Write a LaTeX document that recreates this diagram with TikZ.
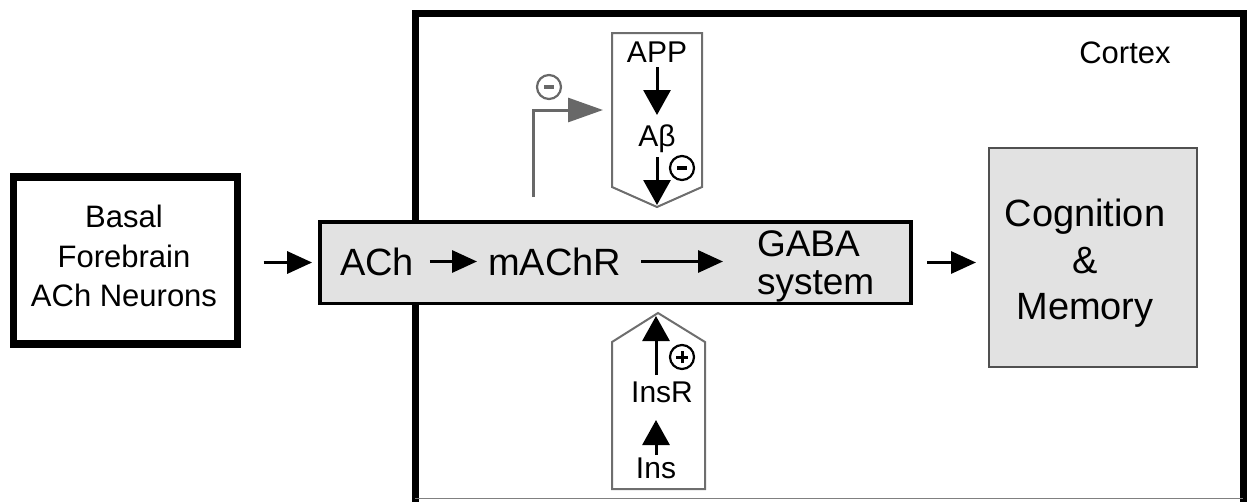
\documentclass[tikz,border=0pt]{standalone}
\usepackage{fontspec}
\setmainfont{Liberation Sans}
\usetikzlibrary{arrows.meta}
\definecolor{boxgray}{HTML}{E2E2E2}
\definecolor{pentline}{HTML}{6E6E6E}
\definecolor{inhib}{HTML}{686868}
\definecolor{cogline}{HTML}{505050}
\begin{document}
\begin{tikzpicture}[x=1pt,y=-1pt,
  txt/.style={inner sep=0pt, outer sep=0pt},
  bigfont/.style={font=\fontsize{38}{46}\selectfont},
  smallfont/.style={font=\fontsize{30}{36}\selectfont},
  arr/.style={line width=3.2pt, -{Triangle[length=25pt,width=22pt]}},
  parr/.style={line width=3pt, -{Triangle[length=25pt,width=27pt]}},
  sign/.style={circle, draw, line width=2.2pt, minimum size=24pt, inner sep=0pt, fill=white},
  pent/.style={draw=pentline, fill=white, line width=2pt}]
\useasboundingbox (0,0) rectangle (1247,501);
% cortex frame
\draw[line width=7pt] (415,505) -- (415,13.5) -- (1243,13.5) -- (1243,505);
\draw[gray, line width=1.5pt] (415,498.5) -- (1243,498.5);
\node[txt, font=\fontsize{31}{36}\selectfont, anchor=base] (cortex) at (1125,63) {Cortex};
% basal forebrain
\node[draw, line width=7.5pt, minimum width=224pt, minimum height=167pt, inner sep=0pt, outer sep=0pt] (basal) at (125.5,260.5) {};
\node[txt, align=center, font=\fontsize{31}{39.5}\selectfont] (basaltxt) at (124,256) {Basal\\Forebrain\\ACh Neurons};
% middle box
\node[draw, fill=boxgray, line width=3.5pt, minimum width=591pt, minimum height=81.5pt, inner sep=0pt, outer sep=0pt] (mid) at (615.6,262.5) {};
\node[txt, bigfont, text height=27pt, text depth=0pt, anchor=base west] (ach) at (340,275) {ACh};
\node[txt, bigfont, text height=27pt, text depth=0pt, anchor=base west] (machr) at (488,275) {mAChR};
\node[txt, align=left, font=\fontsize{37}{38}\selectfont, anchor=west] (gaba) at (757,266) {GABA\\system};
% cognition
\node[draw=cogline, fill=boxgray, line width=2.5pt, minimum width=208pt, minimum height=219pt, inner sep=0pt, outer sep=0pt] (cog) at (1093,257.5) {};
\node[txt, align=center, font=\fontsize{38}{46.5}\selectfont] (cogtxt) at (1085,263.5) {Cognition\\\&\\Memory};
% main arrows
\draw[arr, shorten <=26pt, shorten >=8pt] (basal.east |- mid.west) -- (mid.west);
\draw[arr, shorten <=16pt, shorten >=11pt] (ach.east) -- (machr.west);
\draw[arr, shorten <=20pt, shorten >=34pt] (machr.east) -- (machr.east -| gaba.west);
\draw[arr, shorten <=16pt, shorten >=13pt] (mid.east) -- (mid.east -| cog.west);
% APP pentagon
\node[minimum width=90pt, minimum height=154pt, inner sep=0pt, outer sep=0pt] (appbox) at (657,110) {};
\coordinate (apptip) at (657,207);
\draw[pent] (appbox.north west) -- (appbox.north east) -- (appbox.south east) -- (apptip) -- (appbox.south west) -- cycle;
\node[txt, smallfont, text height=22pt, text depth=0pt, anchor=base] (app) at (657,62) {APP};
\node[txt, smallfont, text height=22pt, text depth=0pt, anchor=base] (ab) at (657,146) {Aβ};
\draw[parr, shorten <=5pt, shorten >=9pt] (app.south) -- (ab.north);
\draw[parr, shorten <=11pt, shorten >=2pt] (ab.south) -- (apptip);
\node[sign] (m2) at (682,168) {};
\draw[line width=3.5pt] ([xshift=-5pt]m2.center) -- ([xshift=5pt]m2.center);
% inhibitory feedback
\coordinate (gs) at (533,197);
\draw[inhib, line width=3pt, -{Triangle[length=35pt,width=24pt]}, shorten >=9pt] (gs) |- (appbox.west);
\node[sign, draw=inhib] (m1) at (549,87) {};
\draw[inhib, line width=3.5pt] ([xshift=-5pt]m1.center) -- ([xshift=5pt]m1.center);
% Ins pentagon
\node[minimum width=93pt, minimum height=147pt, inner sep=0pt, outer sep=0pt] (insbox) at (658.5,415.5) {};
\coordinate (instip) at (658,313);
\draw[pent] (insbox.south west) -- (insbox.north west) -- (instip) -- (insbox.north east) -- (insbox.south east) -- cycle;
\node[txt, smallfont, text height=22pt, text depth=0pt, anchor=base] (ins) at (656,478) {Ins};
\node[txt, smallfont, text height=22pt, text depth=0pt, anchor=base] (insr) at (662,402) {InsR};
\draw[parr, shorten <=1pt, shorten >=18pt] (ins.north) -- (ins.north |- insr.south);
\draw[parr, shorten <=5pt, shorten >=3pt] (ins.north |- insr.north) -- (ins.north |- instip);
\node[sign] (p1) at (682,357) {};
\draw[line width=3pt] ([xshift=-6pt]p1.center) -- ([xshift=6pt]p1.center);
\draw[line width=3pt] ([yshift=-6pt]p1.center) -- ([yshift=6pt]p1.center);
\end{tikzpicture}
\end{document}
